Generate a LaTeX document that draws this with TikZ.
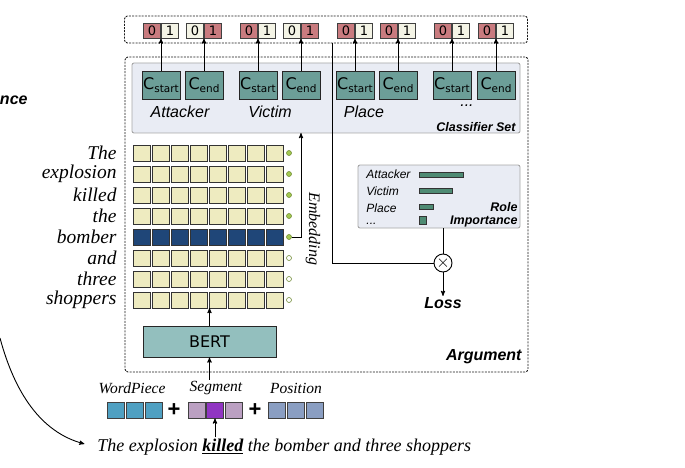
\documentclass[tikz,border=0pt]{standalone}
\usepackage{fontspec}
\setmainfont{Liberation Serif}
\setsansfont{Liberation Sans}
\newfontfamily\dejavu{DejaVu Sans}
\usetikzlibrary{arrows,positioning,calc}

\newcommand{\fsz}[1]{\fontsize{#1}{#1}\selectfont}
\newcommand{\cname}[1]{{\fsz{16}C}{\fsz{10.5}\raisebox{-3.5pt}{#1}}}

\definecolor{bitred}{HTML}{C97B7F}
\definecolor{bitpale}{HTML}{F4F4E6}
\definecolor{clsfill}{HTML}{6C9E98}
\definecolor{panelfill}{HTML}{E9ECF4}
\definecolor{cream}{HTML}{EEEBC0}
\definecolor{navy}{HTML}{1F4678}
\definecolor{bertfill}{HTML}{93BFBE}
\definecolor{bargreen}{HTML}{4E8B73}
\definecolor{dotgreen}{HTML}{A4C950}
\definecolor{wpblue}{HTML}{4FA0C2}
\definecolor{seglight}{HTML}{BBA0C2}
\definecolor{segdark}{HTML}{9035C2}
\definecolor{posblue}{HTML}{8A9EC2}

\begin{document}
\begin{tikzpicture}[x=1pt,y=-1pt,>=stealth',line width=0.9pt,
    bit/.style={draw=black!75,minimum width=17pt,minimum height=15pt,inner sep=0pt,font=\dejavu\fsz{13}},
    cls/.style={draw=black!85,fill=clsfill,minimum width=38pt,minimum height=28pt,inner sep=0pt,font=\dejavu},
    dashbox/.style={draw=black!90,line width=0.9pt,dash pattern=on 2pt off 1.2pt,rounded corners=3pt},
    panel/.style={draw=black!35,fill=panelfill,line width=0.9pt,rounded corners=2pt},
    cell/.style={draw=black!80,minimum width=17pt,minimum height=16pt,inner sep=0pt},
    tok/.style={draw=dotgreen!70!black,line width=0.6pt,circle,minimum size=5pt,inner sep=0pt},
    word/.style={font=\itshape\fsz{19.5},anchor=east,inner sep=0pt},
    role/.style={font=\sffamily\itshape\fsz{16},inner sep=0pt},
    item/.style={font=\sffamily\itshape\fsz{12},anchor=west,inner sep=0pt},
    tag/.style={font=\sffamily\bfseries\itshape\fsz{12.5},anchor=east,inner sep=0pt},
    bar/.style={draw=black!80,fill=bargreen,minimum height=5pt,inner sep=0pt,anchor=west},
    vec/.style={draw=black!75,minimum width=17pt,minimum height=16pt,inner sep=0pt},
    lab/.style={font=\itshape\fsz{15.5},inner sep=1pt},
    plus/.style={font=\sffamily\bfseries\fsz{22},inner sep=0pt}]

  \useasboundingbox (0,0) rectangle (685,468);

  % boxes
  \node[dashbox,minimum width=403pt,minimum height=27pt] (out) at (326,29.5) {};
  \node[dashbox,minimum width=403pt,minimum height=315pt] (arg) at (326.5,214.5) {};
  \node[panel,minimum width=388pt,minimum height=70pt] (cs) at (326,98) {};

  % classifiers and their 0/1 outputs
  \foreach \x/\a/\b/\s [count=\i] in {161/bitred/bitpale/start,204/bitpale/bitred/end,
      258/bitred/bitpale/start,301/bitpale/bitred/end,355/bitred/bitpale/start,
      398/bitred/bitpale/end,452/bitred/bitpale/start,496/bitred/bitpale/end}{
    \node[bit,fill=\a,anchor=east] (z\i) at (\x,30.5) {0};
    \node[bit,fill=\b,anchor=west] (o\i) at (\x,30.5) {1};
    \node[cls] (c\i) at (\x,85) {\cname{\s}};
    \draw[->] (c\i) -- (z\i.south east);
  }

  \node[role] (la) at (180,112) {Attacker};
  \node[role] (lv) at (270,112) {Victim};
  \node[role] (lp) at (364,112) {Place};
  \node[role] (ld) at (467,106) {...};
  \node[tag] (lcs) at (516,127) {Classifier Set};

  % token embeddings
  \foreach \r/\w/\f/\t in {1/The/cream/dotgreen,2/explosion/cream/dotgreen,
      3/killed/cream/dotgreen,4/the/cream/dotgreen,5/bomber/navy/dotgreen,
      6/and/cream/white,7/three/cream/white,8/shoppers/cream/white}{
    \node[word] (w\r) at (117,153+21*\r-21) {\w};
    \foreach \c in {1,...,8}
      \node[cell,fill=\f] (g\r\c) at (141.5+19.1*\c-19.1,153+21*\r-21) {};
    \node[tok,fill=\t] (d\r) at (289,153+21*\r-21) {};
  }

  \coordinate (emb) at (301,133);
  \draw[->] (d5.east) -| (emb);
  \node[rotate=-90,font=\itshape\fsz{16}] (le) at (313,229) {Embedding};

  % role importance and loss
  \node[panel,minimum width=162pt,minimum height=63pt] (ri) at (439,196.5) {};
  \node[item] (ia) at (366,174) {Attacker};
  \node[item] (iv) at (366,191) {Victim};
  \node[item] (ip) at (366,208) {Place};
  \node[item] (id) at (366,224) {...};
  \node[bar,minimum width=44pt] (ba) at (419,175) {};
  \node[bar,minimum width=33pt] (bv) at (419,191) {};
  \node[bar,minimum width=14pt] (bp) at (419,207) {};
  \node[bar,minimum width=7pt,minimum height=8pt] (bd) at (419,220) {};
  \node[tag,align=right,font=\sffamily\bfseries\itshape\fontsize{12.5}{12.5}\selectfont] (lri) at (518,215) {Role\\Importance};

  \coordinate (split) at (332,43);
  \node[circle,draw,fill=white,minimum size=18pt,inner sep=0pt,font=\fsz{17}] (mul) at (443,263) {$\times$};
  \draw (split) |- (mul);
  \draw (ri.south -| mul) -- (mul);
  \node[font=\sffamily\bfseries\itshape\fsz{16},inner sep=1pt] (loss) at (443,303) {Loss};
  \draw[->] (mul) -- (loss);
  \node[tag,font=\sffamily\bfseries\itshape\fsz{16}] (larg) at (522,357) {Argument};

  % encoder and input
  \node[draw=black!85,fill=bertfill,minimum width=133pt,minimum height=31pt,
        font=\dejavu\fsz{16}] (bert) at (209.5,341.5) {BERT};
  \coordinate (gin) at (209.5,308);
  \draw[->] (bert) -- (gin);

  \foreach \x [count=\i] in {115.5,134.5,153.5}
    \node[vec,fill=wpblue] (wp\i) at (\x,410) {};
  \foreach \x/\f [count=\i] in {196.5/seglight,215/segdark,233.5/seglight}
    \node[vec,fill=\f] (sg\i) at (\x,410) {};
  \foreach \x [count=\i] in {277,296,315}
    \node[vec,fill=posblue] (ps\i) at (\x,410) {};
  \node[plus] (p1) at (174,410) {+};
  \node[plus] (p2) at (255,410) {+};

  \node[lab] (lwp) at (132,388) {WordPiece};
  \node[lab] (lsg) at (216,388) {Segment};
  \node[lab] (lps) at (296,388) {Position};
  \draw[->] (lsg.north -| bert) -- (bert);

  \node[font=\itshape\fsz{18},anchor=west,inner sep=1pt] (sent) at (96,447)
    {The explosion \underline{\textbf{killed}} the bomber and three shoppers};
  \draw[->] (sent.north -| sg2) -- (sg2);

  \node[font=\sffamily\bfseries\itshape\fsz{16},anchor=east,inner sep=0pt] (snt) at (28,100) {nce};
  \coordinate (cin) at (0,338);
  \draw[->,shorten >=12pt] (cin) to[out=-75,in=165] (sent.west);

\end{tikzpicture}
\end{document}
